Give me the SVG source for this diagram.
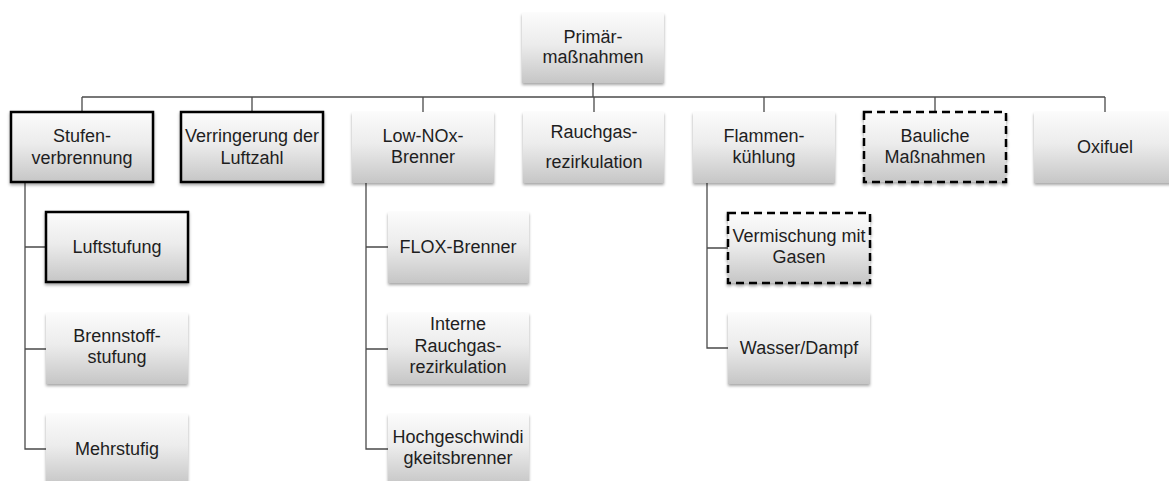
<svg xmlns="http://www.w3.org/2000/svg" width="1169" height="481" viewBox="0 0 1169 481">
  <defs>
    <linearGradient id="boxFill" x1="0" y1="0" x2="0" y2="1">
      <stop offset="0" stop-color="#fbfbfb"/>
      <stop offset="0.45" stop-color="#ececec"/>
      <stop offset="1" stop-color="#c6c6c6"/>
    </linearGradient>
    <filter id="shadow" x="-10%" y="-10%" width="120%" height="130%">
      <feDropShadow dx="0" dy="2" stdDeviation="1.8" flood-color="#000" flood-opacity="0.35"/>
    </filter>
  </defs>
  <style>
    .box { fill: url(#boxFill); filter: url(#shadow); }
    .bold { stroke: #000; stroke-width: 2.5; }
    .dash { stroke: #000; stroke-width: 2.5; stroke-dasharray: 8 5; }
    .lbl { font-family: "Liberation Sans", Arial, sans-serif; font-size: 18px; fill: #1e1e1e; text-anchor: middle; }
    .conn { fill: none; stroke: #4a4a4a; stroke-width: 1.3; }
  </style>
  <rect width="1169" height="481" fill="#fff"/>

  <!-- connectors -->
  <g id="connectors" class="conn">
    <path d="M593 82V97"/>
    <path d="M82 97H1105"/>
    <path d="M82 97V112M252 97V112M423 97V112M594 97V112M764 97V112M935 97V112M1105 97V112"/>
    <!-- Stufenverbrennung branch -->
    <path d="M25 183V449H46M25 247H46M25 349H46"/>
    <!-- Low-NOx branch -->
    <path d="M366 183V449H388M366 247H388M366 349H388"/>
    <!-- Flammenkuehlung branch -->
    <path d="M707 183V348H728M707 248H728"/>
  </g>

  <g id="primaer">
    <rect class="box" x="522" y="13" width="142" height="70"/>
    <text class="lbl" x="593" y="43">Primär-</text>
    <text class="lbl" x="593" y="63">maßnahmen</text>
  </g>

  <g id="stufenverbrennung">
    <rect class="box bold" x="11" y="112" width="142" height="70"/>
    <text class="lbl" x="82" y="142">Stufen-</text>
    <text class="lbl" x="82" y="164">verbrennung</text>
  </g>

  <g id="luftzahl">
    <rect class="box bold" x="181" y="112" width="142" height="70"/>
    <text class="lbl" x="252" y="142">Verringerung der</text>
    <text class="lbl" x="252" y="164">Luftzahl</text>
  </g>

  <g id="lownox">
    <rect class="box" x="352" y="112" width="142" height="71"/>
    <text class="lbl" x="423" y="142">Low-NOx-</text>
    <text class="lbl" x="423" y="163">Brenner</text>
  </g>

  <g id="rauchgas">
    <rect class="box" x="523" y="112" width="141" height="71"/>
    <text class="lbl" x="594" y="138">Rauchgas-</text>
    <text class="lbl" x="594" y="168">rezirkulation</text>
  </g>

  <g id="flammen">
    <rect class="box" x="693" y="112" width="142" height="71"/>
    <text class="lbl" x="764" y="142">Flammen-</text>
    <text class="lbl" x="764" y="163">kühlung</text>
  </g>

  <g id="bauliche">
    <rect class="box dash" x="864" y="112" width="142" height="70"/>
    <text class="lbl" x="935" y="142">Bauliche</text>
    <text class="lbl" x="935" y="163">Maßnahmen</text>
  </g>

  <g id="oxifuel">
    <rect class="box" x="1034" y="112" width="142" height="71"/>
    <text class="lbl" x="1105" y="153">Oxifuel</text>
  </g>

  <g id="luftstufung">
    <rect class="box bold" x="46" y="212" width="142" height="70"/>
    <text class="lbl" x="117" y="253">Luftstufung</text>
  </g>

  <g id="brennstoffstufung">
    <rect class="box" x="46" y="313" width="142" height="71"/>
    <text class="lbl" x="117" y="342">Brennstoff-</text>
    <text class="lbl" x="117" y="363">stufung</text>
  </g>

  <g id="mehrstufig">
    <rect class="box" x="46" y="414" width="142" height="71"/>
    <text class="lbl" x="117" y="455">Mehrstufig</text>
  </g>

  <g id="flox">
    <rect class="box" x="388" y="212" width="141" height="71"/>
    <text class="lbl" x="458" y="253">FLOX-Brenner</text>
  </g>

  <g id="interne">
    <rect class="box" x="388" y="313" width="141" height="71"/>
    <text class="lbl" x="458" y="330">Interne</text>
    <text class="lbl" x="458" y="352">Rauchgas-</text>
    <text class="lbl" x="458" y="373">rezirkulation</text>
  </g>

  <g id="hochgeschwindigkeit">
    <rect class="box" x="388" y="414" width="141" height="71"/>
    <text class="lbl" x="458" y="443">Hochgeschwindi</text>
    <text class="lbl" x="458" y="464">gkeitsbrenner</text>
  </g>

  <g id="vermischung">
    <rect class="box dash" x="728" y="213" width="142" height="70"/>
    <text class="lbl" x="799" y="242">Vermischung mit</text>
    <text class="lbl" x="799" y="263">Gasen</text>
  </g>

  <g id="wasser">
    <rect class="box" x="728" y="313" width="142" height="71"/>
    <text class="lbl" x="799" y="354">Wasser/Dampf</text>
  </g>
</svg>
